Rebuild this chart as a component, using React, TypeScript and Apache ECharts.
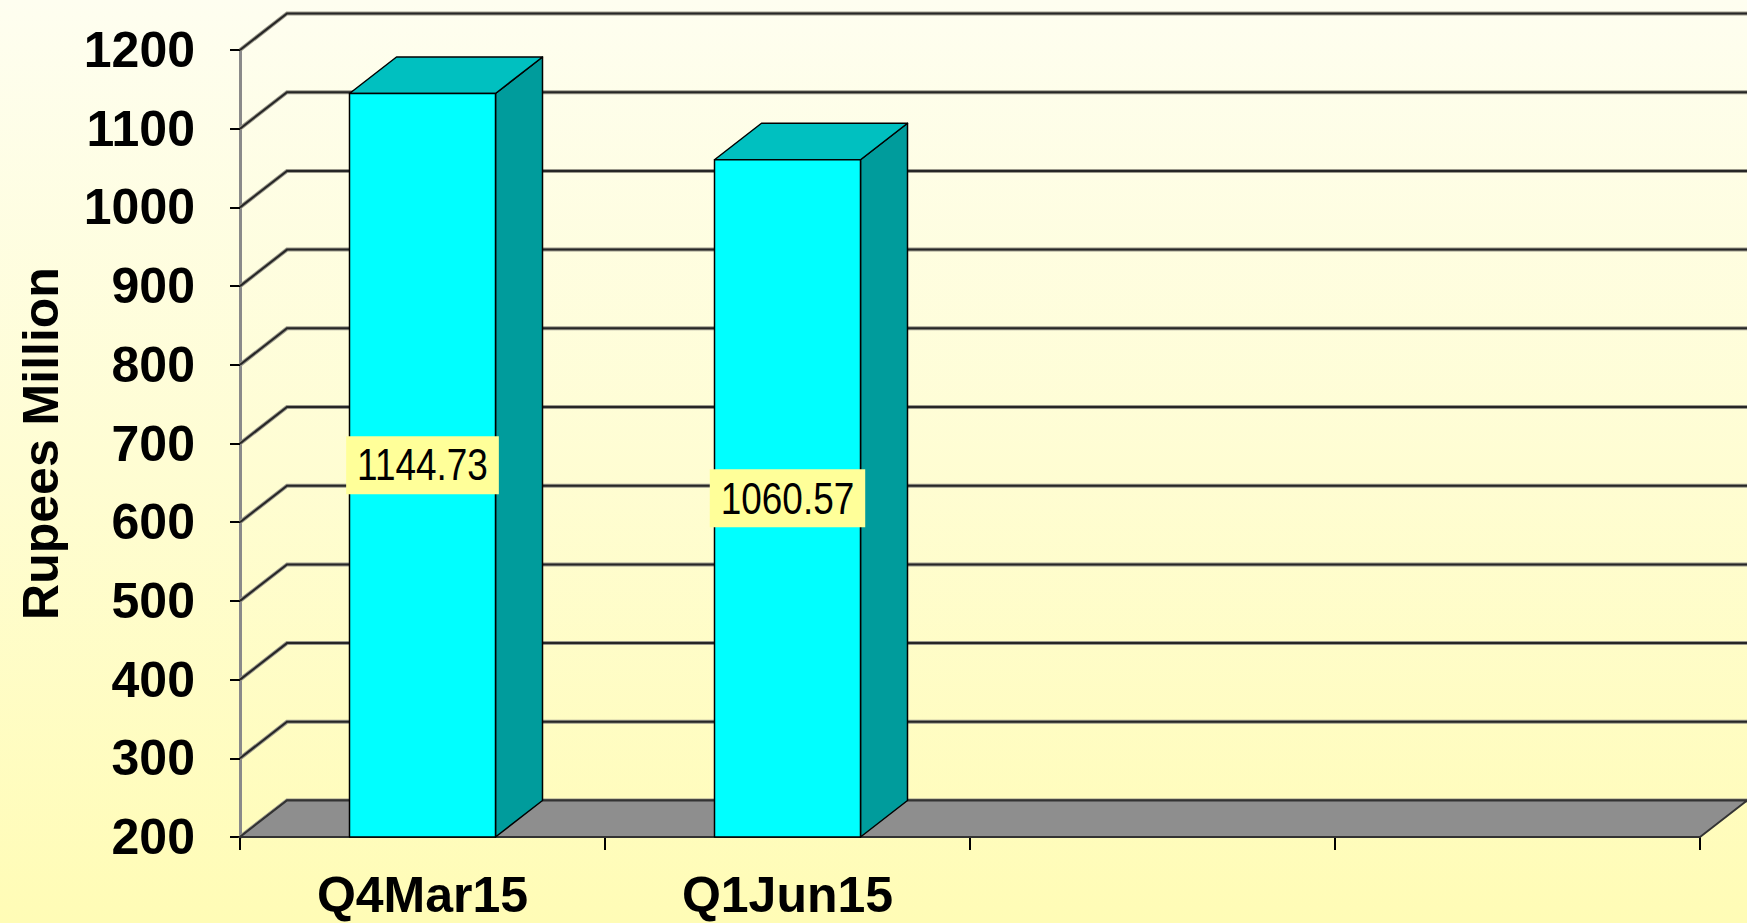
import React, { useEffect, useRef } from 'react';
import * as echarts from 'echarts';

const categories = ['Q4Mar15', 'Q1Jun15', '', ''];
const values = [1144.73, 1060.57];
const yTicks = [200, 300, 400, 500, 600, 700, 800, 900, 1000, 1100, 1200];
const yMin = 200;
const yMax = 1200;
const yStep = 100;
const yAxisTitle = 'Rupees Million';

const DX = 47;
const DY = -36.5;
const FONT = '"Liberation Sans", Arial, Helvetica, sans-serif';

export default function App() {
  const ref = useRef<HTMLDivElement>(null);
  useEffect(() => {
    const chart = echarts.init(ref.current as HTMLDivElement, null, { renderer: 'svg' });

    const wallItem = (params: any, api: any) => {
      const cs = params.coordSys;
      const v = api.value(1);
      const y = api.coord([0, v])[1];
      const x0 = cs.x;
      const x1 = cs.x + cs.width;
      const pts = [[x0, y], [x0 + DX, y + DY], [x1 + DX, y + DY]];
      return {
        type: 'group',
        children: [
          { type: 'polyline', shape: { points: pts }, style: { stroke: '#9a988a', lineWidth: 4, fill: null } },
          { type: 'polyline', shape: { points: pts }, style: { stroke: '#262626', lineWidth: 2, fill: null } },
        ],
      };
    };

    const floorItem = (params: any, api: any) => {
      const cs = params.coordSys;
      const y = api.coord([0, api.value(1)])[1];
      const x0 = cs.x;
      const x1 = cs.x + cs.width;
      return {
        type: 'polygon',
        shape: { points: [[x0, y], [x1, y], [x1 + DX, y + DY], [x0 + DX, y + DY]] },
        style: { fill: '#8e8e8e', stroke: '#333333', lineWidth: 1.8 },
      };
    };

    const barItem = (params: any, api: any) => {
      const i = api.value(0);
      const v = api.value(1);
      const top = api.coord([i, v]);
      const base = api.coord([i, yMin]);
      const w = api.size([1, 0])[0] * 0.4;
      const xl = top[0] - w / 2;
      const xr = top[0] + w / 2;
      const yt = top[1];
      const yb = base[1];
      const line = { stroke: '#000000', lineWidth: 1.5, lineJoin: 'round' };
      return {
        type: 'group',
        children: [
          { type: 'polygon', shape: { points: [[xr, yt], [xr + DX, yt + DY], [xr + DX, yb + DY], [xr, yb]] }, style: { fill: '#009c9c', ...line } },
          { type: 'polygon', shape: { points: [[xl, yt], [xl + DX, yt + DY], [xr + DX, yt + DY], [xr, yt]] }, style: { fill: '#00c0c0', ...line } },
          { type: 'polygon', shape: { points: [[xl, yb], [xl, yt], [xr, yt], [xr, yb]] }, style: { fill: '#00ffff', ...line } },
          {
            type: 'text',
            x: (xl + xr) / 2,
            y: (yt + yb) / 2,
            scaleX: 0.84,
            style: {
              text: v.toFixed(2),
              fill: '#000000',
              fontSize: 44,
              fontFamily: FONT,
              align: 'center',
              verticalAlign: 'middle',
              backgroundColor: '#ffff99',
              padding: [7, 13],
            },
          },
        ],
      };
    };

    chart.setOption({
      animation: false,
      backgroundColor: {
        type: 'linear', x: 0, y: 0, x2: 0, y2: 1,
        colorStops: [
          { offset: 0, color: '#fefef0' },
          { offset: 1, color: '#fffcb6' },
        ],
      },
      grid: { left: 240, right: 47, top: 50, bottom: 86, containLabel: false },
      xAxis: {
        type: 'category',
        data: categories,
        boundaryGap: true,
        axisLine: { show: false },
        axisTick: { show: true, length: 13, interval: 0, lineStyle: { color: '#000000', width: 2 } },
        axisLabel: { interval: 0, margin: 33, fontSize: 50, fontWeight: 'bold', fontFamily: FONT, color: '#000000' },
        splitLine: { show: false },
      },
      yAxis: {
        type: 'value',
        min: yMin,
        max: yMax,
        interval: yStep,
        name: yAxisTitle,
        nameLocation: 'middle',
        nameRotate: 90,
        nameGap: 174,
        nameTextStyle: { fontSize: 50, fontWeight: 'bold', fontFamily: FONT, color: '#000000' },
        axisLine: { show: true, lineStyle: { color: '#8a8a8a', width: 3 } },
        axisTick: { show: true, length: 10, lineStyle: { color: '#000000', width: 2 } },
        axisLabel: {
          margin: 45,
          fontSize: 50,
          fontWeight: 'bold',
          fontFamily: FONT,
          color: '#000000',
          formatter: (v: number) => String(v),
        },
        splitLine: { show: false },
      },
      series: [
        { type: 'custom', z: 1, clip: false, silent: true, renderItem: wallItem, data: yTicks.map((v) => [0, v]) },
        { type: 'custom', z: 2, clip: false, silent: true, renderItem: floorItem, data: [[0, yMin]] },
        { type: 'custom', z: 3, clip: false, silent: true, renderItem: barItem, data: values.map((v, i) => [i, v]) },
      ],
    });
    return () => chart.dispose();
  }, []);
  return <div ref={ref} style={{ position: 'fixed', left: 0, top: 0, width: 1747, height: 923 }} />;
}
